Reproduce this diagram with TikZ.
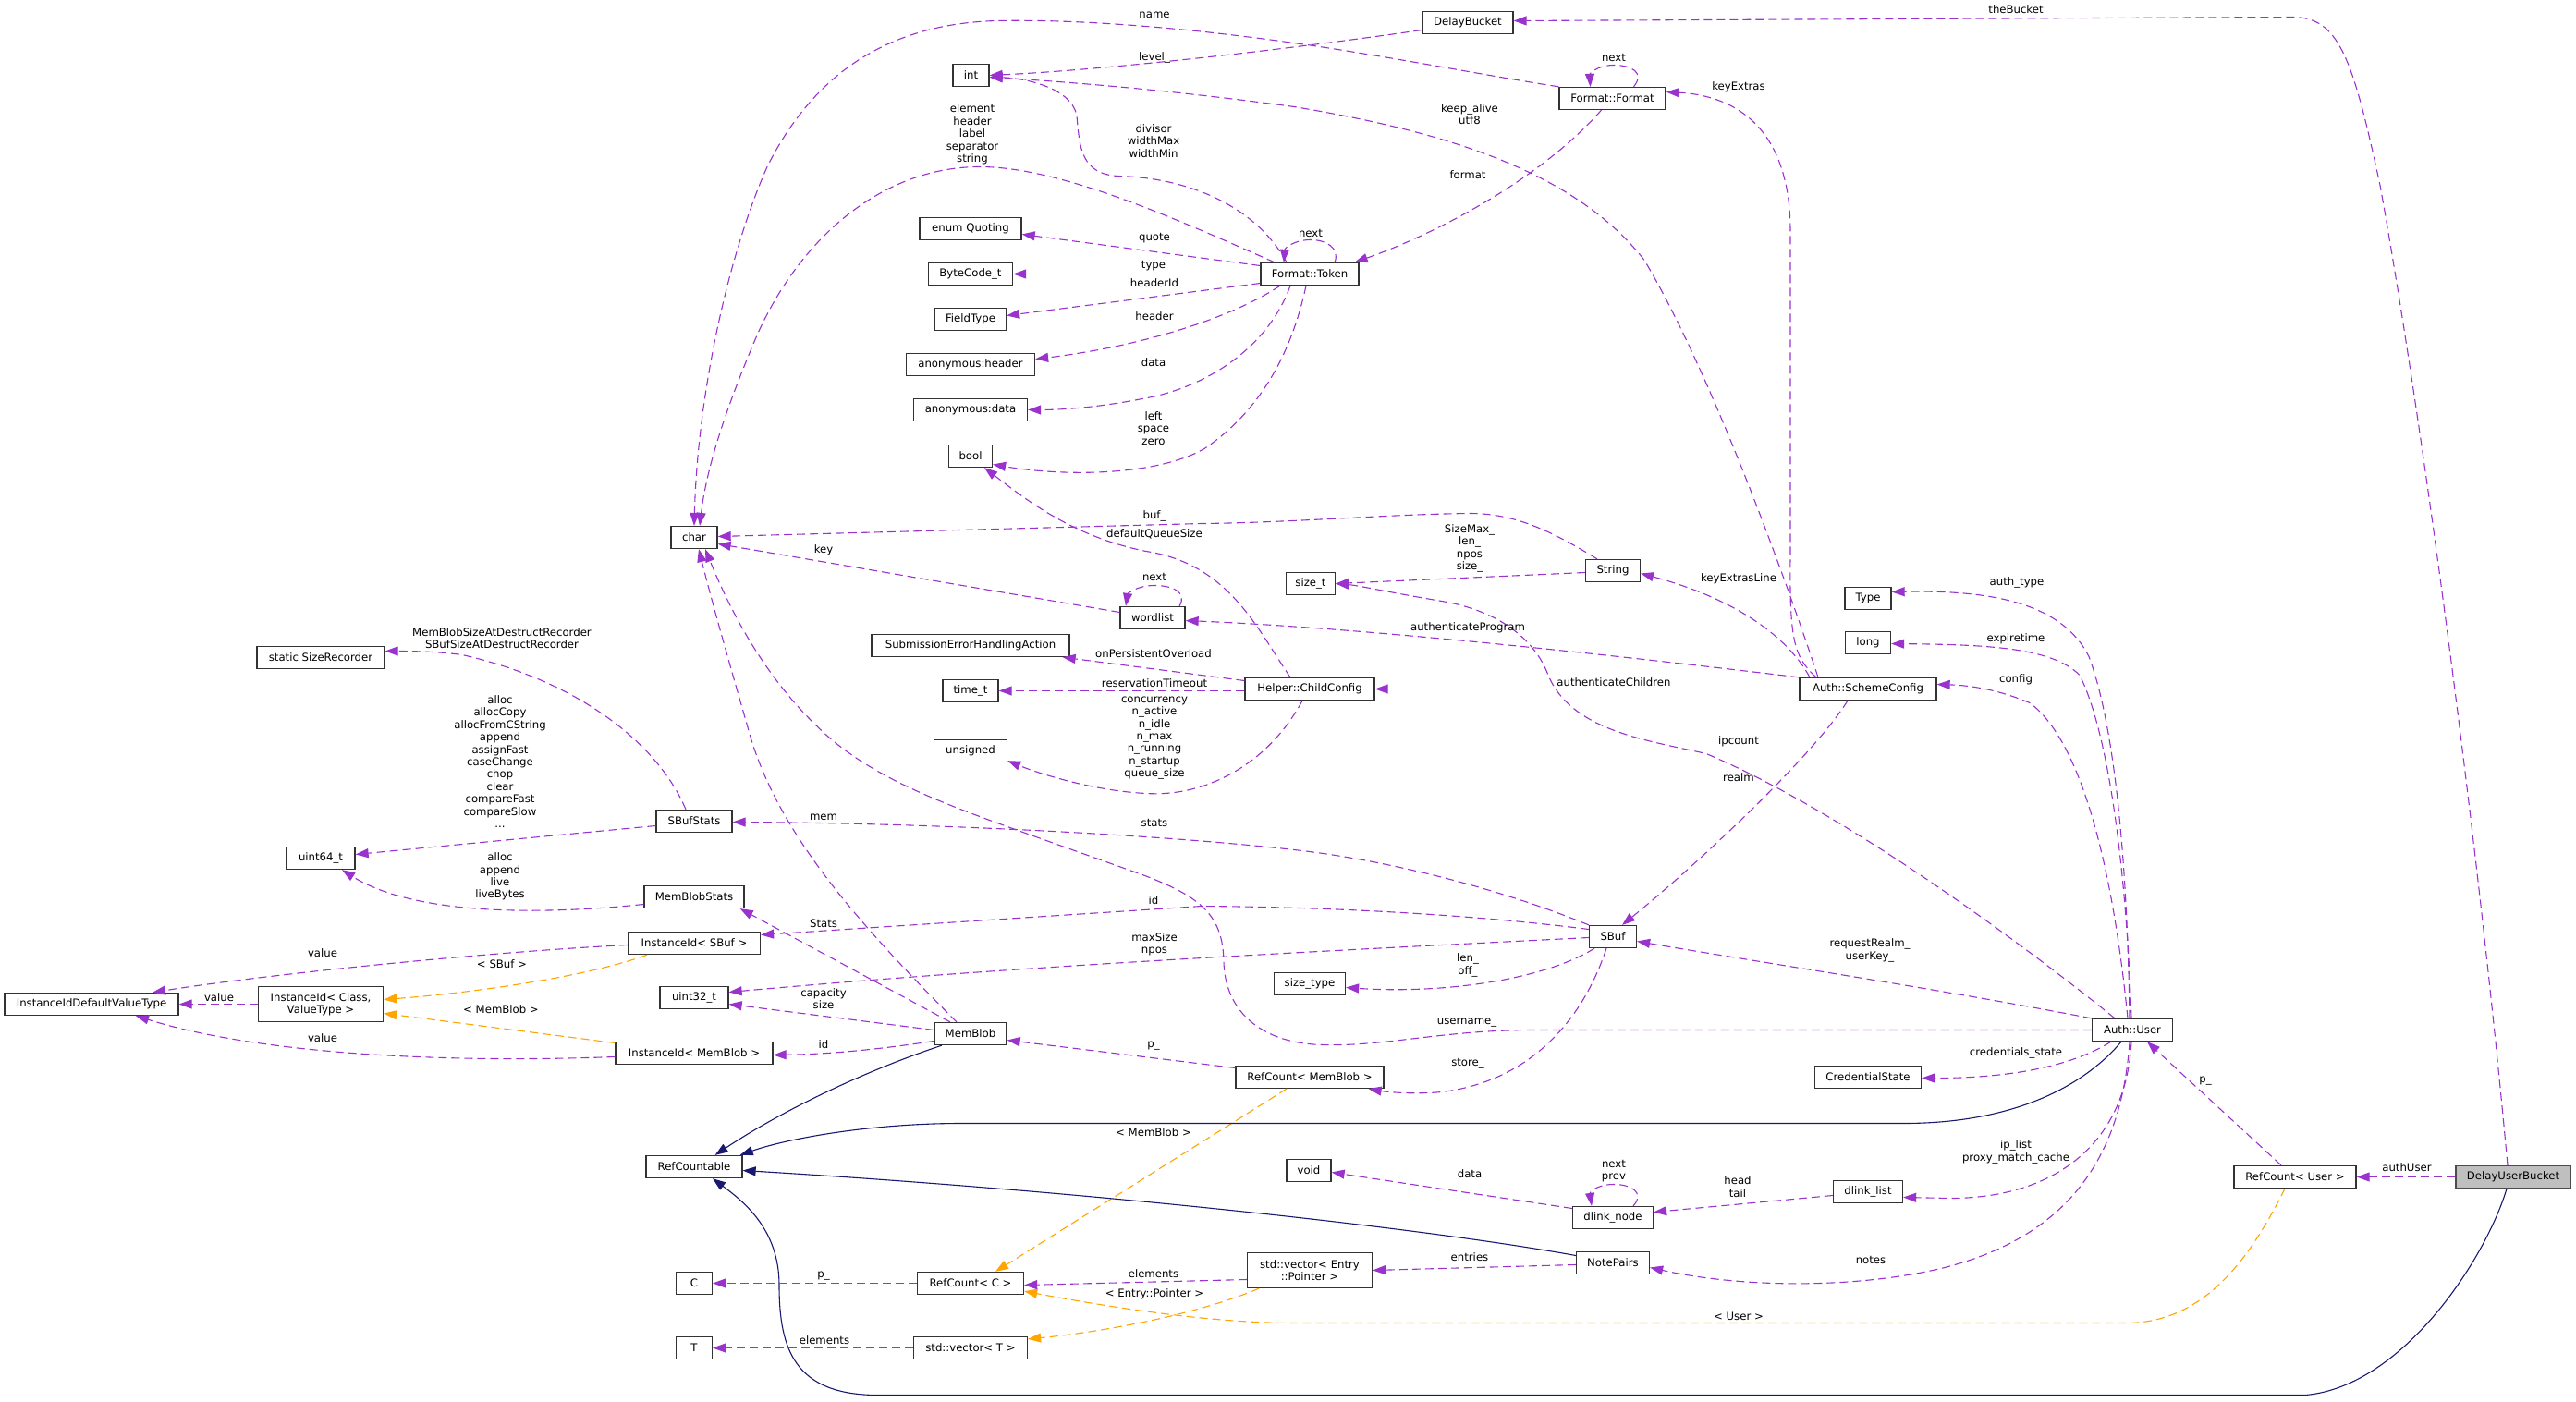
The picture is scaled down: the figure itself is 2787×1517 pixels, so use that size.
\documentclass[tikz,border=0pt]{standalone}
\usepackage{fontspec}
\setmainfont{DejaVu Sans}
\usetikzlibrary{arrows.meta}
\definecolor{pu}{HTML}{9A32CD}
\definecolor{orng}{HTML}{FFA500}
\definecolor{mblue}{HTML}{191970}
\definecolor{bord}{HTML}{333333}
\definecolor{grayfill}{HTML}{BFBFBF}
\begin{document}
\begin{tikzpicture}[x=1pt,y=-1pt,
  box/.style={draw=bord, line width=1.3pt, fill=white, inner xsep=2pt, inner ysep=0pt, minimum height=24pt, font=\fontsize{11.7pt}{13.4pt}\selectfont, align=center},
  boxtwo/.style={box, minimum height=38pt},
  lbl/.style={inner sep=0pt, font=\fontsize{11.7pt}{13.4pt}\selectfont, align=center},
  usg/.style={draw=pu, line width=1.1pt, dash pattern=on 9pt off 5pt, -{Triangle[length=14pt,width=10pt]}},
  tmpl/.style={draw=orng, line width=1.1pt, dash pattern=on 9pt off 5pt, -{Triangle[length=14pt,width=10pt]}},
  inh/.style={draw=mblue, line width=1.1pt, -{Triangle[length=14pt,width=10pt]}}
]
\useasboundingbox[fill=white] (0,-0.5) rectangle (2787,1516.5);

% ---------- nodes ----------
\node[box,minimum width=98pt] (db) at (1588,24) {DelayBucket};
\node[box,minimum width=39pt] (int) at (1050.5,81) {int};
\node[box,minimum width=115pt] (ff) at (1744.5,106) {Format::Format};
\node[box,minimum width=106pt] (ft) at (1417,296) {Format::Token};
\node[box,minimum width=110pt] (eq) at (1050,247) {enum Quoting};
\node[box,minimum width=91pt] (bc) at (1050,296) {ByteCode\_t};
\node[box,minimum width=77pt] (fty) at (1050,345) {FieldType};
\node[box,minimum width=139pt] (ah) at (1050,394) {anonymous:header};
\node[box,minimum width=123pt] (ad) at (1050,443) {anonymous:data};
\node[box,minimum width=47pt] (bool) at (1050,493) {bool};
\node[box,minimum width=50pt] (char) at (751,581) {char};
\node[box,minimum width=59pt] (str) at (1745,617) {String};
\node[box,minimum width=53pt] (sizet) at (1418,631) {size\_t};
\node[box,minimum width=70pt] (wl) at (1247,668) {wordlist};
\node[box,minimum width=214pt] (seha) at (1050,698) {SubmissionErrorHandlingAction};
\node[box,minimum width=60pt] (timet) at (1050,747) {time\_t};
\node[box,minimum width=140pt] (hcc) at (1417,745) {Helper::ChildConfig};
\node[box,minimum width=79pt] (uns) at (1050,812) {unsigned};
\node[box,minimum width=50pt] (type) at (2021,647) {Type};
\node[box,minimum width=49pt] (long) at (2021,695) {long};
\node[box,minimum width=148pt] (asc) at (2021,745) {Auth::SchemeConfig};
\node[box,minimum width=138pt] (ssr) at (347,711) {static SizeRecorder};
\node[box,minimum width=74pt] (u64) at (347,928) {uint64\_t};
\node[box,minimum width=82pt] (sbs) at (751,888) {SBufStats};
\node[box,minimum width=108pt] (mbs) at (751,970) {MemBlobStats};
\node[box,minimum width=143pt] (iis) at (751,1020) {InstanceId< SBuf >};
\node[box,minimum width=188pt] (iidv) at (99,1086) {InstanceIdDefaultValueType};
\node[boxtwo,minimum width=135pt] (iicv) at (347,1086) {InstanceId< Class,\\ValueType >};
\node[box,minimum width=74pt] (u32) at (751,1079) {uint32\_t};
\node[box,minimum width=170pt] (iim) at (751,1139) {InstanceId< MemBlob >};
\node[box,minimum width=78pt] (mb) at (1050,1118) {MemBlob};
\node[box,minimum width=104pt] (rc) at (751,1262) {RefCountable};
\node[box,minimum width=51pt] (sbuf) at (1745,1013) {SBuf};
\node[box,minimum width=77pt] (stype) at (1417,1064) {size\_type};
\node[box,minimum width=160pt] (rcm) at (1417,1165) {RefCount< MemBlob >};
\node[box,minimum width=87pt] (au) at (2307,1114) {Auth::User};
\node[box,minimum width=115pt] (cs) at (2021,1165) {CredentialState};
\node[box,minimum width=48pt] (void) at (1416,1266) {void};
\node[box,minimum width=87pt] (dn) at (1745,1317) {dlink\_node};
\node[box,minimum width=75pt] (dl) at (2021,1289) {dlink\_list};
\node[box,minimum width=79pt] (np) at (1745,1366) {NotePairs};
\node[boxtwo,minimum width=135pt] (vep) at (1417,1374) {std::vector< Entry\\::Pointer >};
\node[box,minimum width=115pt] (rcc) at (1050,1388) {RefCount< C >};
\node[box,minimum width=39pt] (nc) at (751,1388) {C};
\node[box,minimum width=39pt] (nt) at (751,1458) {T};
\node[box,minimum width=123pt] (vt) at (1050,1458) {std::vector< T >};
\node[box,minimum width=132pt] (rcu) at (2483,1273) {RefCount< User >};
\node[box,minimum width=124pt,fill=grayfill,draw=black!70] (dub) at (2719,1273) {DelayUserBucket};

% ---------- edges ----------
% DelayUserBucket
\draw[usg] ([xshift=-6pt]dub.north) .. controls (2680,900) and (2620,450) .. (2575,200) .. controls (2545,60) and (2530,18) .. (2480,18) -- ([yshift=2pt]db.east);
\draw[usg] (dub.west) -- (rcu.east);
\draw[inh] ([xshift=-7pt]dub.south) .. controls (2690,1360) and (2600,1500) .. (2494,1509) -- (950,1509) .. controls (860,1509) and (843,1460) .. (843,1390) .. controls (843,1330) and (805,1300) .. ([xshift=20pt]rc.south);
% RefCount<User>
\draw[usg] ([xshift=-15pt]rcu.north) -- ([xshift=16pt]au.south);
\draw[tmpl] ([xshift=-11pt]rcu.south) .. controls (2430,1370) and (2380,1431) .. (2300,1431) -- (1400,1431) .. controls (1300,1431) and (1180,1410) .. ([yshift=4pt]rcc.south east);
% templates
\draw[tmpl] ([xshift=-25pt]rcm.south) -- ([xshift=27pt]rcc.north);
\draw[tmpl] ([xshift=-55pt]vep.south) .. controls (1300,1420) and (1200,1440) .. ([yshift=-3pt]vt.north east);
\draw[usg] ([yshift=-10pt]vep.west) -- ([yshift=-2pt]rcc.east);
\draw[usg] (rcc.west) -- (nc.east);
\draw[usg] (vt.west) -- (nt.east);
% inheritance to RefCountable
\draw[inh] ([xshift=-31pt]mb.south) .. controls (930,1160) and (840,1205) .. ([xshift=-30pt]rc.north east);
\draw[inh] ([xshift=-12pt]au.south) .. controls (2250,1180) and (2170,1215) .. (2060,1215) -- (1040,1215) .. controls (940,1215) and (850,1232) .. ([xshift=-3pt]rc.north east);
\draw[inh] ([yshift=8pt]np.west) .. controls (1550,1330) and (1200,1290) .. ([yshift=-4pt]rc.east);
% NotePairs etc.
\draw[usg] ([yshift=-2pt]np.west) -- (vep.east);
\draw[usg] ([xshift=-3pt]au.south) .. controls (2295,1260) and (2230,1340) .. (2100,1372) .. controls (2000,1395) and (1880,1392) .. ([yshift=-5pt]np.east);
\draw[usg] ([xshift=-1pt]au.south) .. controls (2300,1240) and (2220,1296) .. (2110,1296) -- ([yshift=-6pt]dl.east);
\draw[usg] ([yshift=-4pt]dl.west) -- ([yshift=6pt]dn.east);
\draw[usg] ([xshift=22pt]dn.north) .. controls (1780,1290) and (1765,1281) .. (1746,1281) .. controls (1727,1281) and (1720,1290) .. ([xshift=-23pt]dn.north);
\draw[usg] ([yshift=10pt]dn.west) -- ([yshift=-2pt]void.east);
\draw[usg] ([xshift=-23pt]au.south) .. controls (2230,1160) and (2150,1166) .. ([yshift=-1pt]cs.east);
% username_
\draw[usg] (au.west) -- (1660,1114) .. controls (1560,1114) and (1500,1132) .. (1430,1130) .. controls (1360,1128) and (1325,1090) .. (1324,1040) .. controls (1323,990) and (1300,970) .. (1236,946) -- (1146,914) .. controls (1040,876) and (960,850) .. (900,800) .. controls (830,740) and (790,660) .. ([xshift=12pt]char.south);
% MemBlob
\draw[usg] ([xshift=-15pt]mb.north) .. controls (930,1000) and (840,900) .. (810,790) .. controls (790,720) and (770,650) .. ([xshift=5pt]char.south);
\draw[usg] ([xshift=-22pt]mb.north) -- ([xshift=-5pt]mbs.south east);
\draw[usg] ([yshift=4pt]mb.west) -- ([yshift=-7pt]u32.east);
\draw[usg] ([yshift=-8pt]mb.west) .. controls (950,1135) and (900,1140) .. ([yshift=-2pt]iim.east);
\draw[usg] ([yshift=10pt]rcm.west) -- ([yshift=-7pt]mb.east);
% SBuf
\draw[usg] ([xshift=-7pt]sbuf.south) .. controls (1710,1110) and (1650,1170) .. (1560,1181) .. controls (1530,1184) and (1500,1181) .. ([xshift=-17pt]rcm.south east);
\draw[usg] ([xshift=-20pt]sbuf.south) .. controls (1670,1060) and (1560,1075) .. ([yshift=-4pt]stype.east);
\draw[usg] ([yshift=-1pt]sbuf.west) .. controls (1400,1030) and (1100,1045) .. ([yshift=6pt]u32.east);
\draw[usg] ([yshift=8pt]sbuf.west) .. controls (1600,990) and (1450,981) .. (1300,980) -- ([yshift=9pt]iis.east);
\draw[usg] (sbuf.north west) .. controls (1620,960) and (1500,930) .. (1400,919) .. controls (1250,902) and (1000,890) .. ([yshift=-1pt]sbs.east);
% stats classes
\draw[usg] ([xshift=-9pt]sbs.north) .. controls (710,800) and (620,735) .. (500,708) .. controls (470,704) and (440,704) .. ([yshift=7pt]ssr.east);
\draw[usg] ([yshift=-5pt]sbs.west) -- ([yshift=4pt]u64.east);
\draw[usg] ([yshift=-8pt]mbs.west) .. controls (560,992) and (440,985) .. ([xshift=23pt]u64.south);
% InstanceId
\draw[usg] ([yshift=-2pt]iis.west) .. controls (520,1030) and (280,1055) .. ([xshift=66pt]iidv.north);
\draw[tmpl] ([xshift=-51pt]iis.south) .. controls (640,1055) and (520,1073) .. ([yshift=5pt]iicv.east);
\draw[tmpl] ([yshift=11pt]iim.west) -- ([yshift=-10pt]iicv.east);
\draw[usg] ([yshift=-4pt]iim.west) .. controls (480,1150) and (280,1140) .. ([xshift=48pt]iidv.south);
\draw[usg] (iicv.west) -- (iidv.east);
% Auth::User upper
\draw[usg] (au.north west) .. controls (2100,1070) and (1900,1040) .. ([yshift=-5pt]sbuf.east);
\draw[usg] ([xshift=-22pt]asc.south) .. controls (1960,820) and (1830,940) .. ([xshift=10pt]sbuf.north);
\draw[usg] ([xshift=-19pt]au.north) .. controls (2200,1030) and (2000,880) .. (1846,815) .. controls (1780,800) and (1700,790) .. (1675,730) .. controls (1660,690) and (1620,660) .. (1560,650) .. controls (1500,640) and (1470,633) .. (sizet.east);
\draw[usg] ([xshift=-3pt]au.north) .. controls (2302,950) and (2290,790) .. (2260,710) .. controls (2230,650) and (2150,638) .. ([yshift=7pt]type.east);
\draw[usg] ([xshift=-1pt]au.north) .. controls (2300,930) and (2280,790) .. (2250,730) .. controls (2220,700) and (2150,697) .. ([yshift=-1pt]long.east);
\draw[usg] ([xshift=-5pt]au.north) .. controls (2285,930) and (2250,800) .. (2196,760) .. controls (2160,745) and (2130,741) .. ([yshift=5pt]asc.east);
% String
\draw[usg] ([yshift=-2pt]str.west) -- (sizet.east);
\draw[usg] ([xshift=-17pt]str.north) .. controls (1680,575) and (1640,555) .. (1590,555) .. controls (1500,556) and (1400,565) .. (1300,566) -- ([yshift=1pt]char.east);
% ChildConfig
\draw[usg] ([xshift=-21pt]hcc.north) .. controls (1360,680) and (1330,610) .. (1240,596) .. controls (1160,580) and (1110,540) .. ([xshift=15pt]bool.south);
\draw[usg] ([yshift=9pt]hcc.west) -- ([xshift=-8pt]seha.south east);
\draw[usg] ([yshift=-2pt]hcc.west) -- (timet.east);
\draw[usg] ([xshift=-8pt]hcc.south) .. controls (1370,830) and (1300,862) .. (1240,858) .. controls (1180,855) and (1120,835) .. ([yshift=2pt]uns.south east);
% wordlist
\draw[usg] ([yshift=6pt]wl.west) -- ([yshift=-7pt]char.east);
\draw[usg] ([xshift=29pt]wl.north) .. controls (1285,640) and (1268,633) .. (1249,633) .. controls (1230,633) and (1220,642) .. ([xshift=-29pt]wl.north);
% SchemeConfig
\draw[usg] (asc.north west) .. controls (1800,715) and (1500,680) .. ([yshift=-3pt]wl.east);
\draw[usg] (asc.west) -- (hcc.east);
\draw[usg] ([xshift=-63pt]asc.north) .. controls (1935,690) and (1880,648) .. ([yshift=-3pt]str.east);
\draw[usg] ([xshift=-56pt]asc.north) .. controls (1940,710) and (1936,690) .. (1937,600) -- (1937,250) .. controls (1937,140) and (1880,103) .. ([yshift=7pt]ff.east);
\draw[usg] ([xshift=-54pt]asc.north) .. controls (1930,620) and (1850,400) .. (1779,281) .. controls (1700,180) and (1550,140) .. (1400,115) .. controls (1250,95) and (1150,88) .. ([yshift=-2pt]int.east);
% Format
\draw[usg] ([xshift=-12pt]ff.south) .. controls (1670,190) and (1560,250) .. ([xshift=-5pt]ft.north east);
\draw[usg] ([xshift=23pt]ff.north) .. controls (1780,78) and (1765,70) .. (1746,70) .. controls (1727,70) and (1720,80) .. ([xshift=-24pt]ff.north);
\draw[usg] (ff.north west) .. controls (1600,80) and (1500,60) .. (1400,46) .. controls (1300,32) and (1180,20) .. (1079,22) .. controls (960,25) and (880,80) .. (830,180) .. controls (790,270) and (755,420) .. (char.north);
\draw[usg] ([yshift=-8pt]db.west) .. controls (1400,52) and (1200,75) .. (int.east);
\draw[usg] ([xshift=-25pt]ft.north) .. controls (1360,225) and (1290,192) .. (1210,190) .. controls (1170,188) and (1168,160) .. (1165,125) .. controls (1160,95) and (1110,84) .. ([yshift=-2pt]int.east);
\draw[usg] ([xshift=27pt]ft.north) .. controls (1450,268) and (1435,259) .. (1418,259) .. controls (1400,259) and (1390,268) .. ([xshift=-28pt]ft.north);
\draw[usg] ([xshift=-38pt]ft.north) .. controls (1280,240) and (1150,180) .. (1060,180) .. controls (960,180) and (870,250) .. (820,360) .. controls (790,430) and (765,500) .. ([xshift=6pt]char.north);
\draw[usg] ([yshift=9pt]ft.west) -- ([yshift=-6pt]eq.east);
\draw[usg] (ft.west) -- (bc.east);
\draw[usg] ([yshift=-10pt]ft.west) -- ([yshift=4pt]fty.east);
\draw[usg] ([xshift=-32pt]ft.south) .. controls (1330,345) and (1230,375) .. ([yshift=6pt]ah.east);
\draw[usg] ([xshift=-21pt]ft.south) .. controls (1370,380) and (1300,420) .. (1236,431) .. controls (1190,440) and (1150,443) .. (ad.east);
\draw[usg] ([xshift=-4pt]ft.south) .. controls (1400,370) and (1370,440) .. (1303,485) .. controls (1250,515) and (1150,515) .. ([yshift=-9pt]bool.east);

% ---------- labels ----------
\node[lbl] (l01) at (2181,10) {theBucket};
\node[lbl] (l02) at (2604,1263) {authUser};
\node[lbl] (l03) at (2386,1169) {p\_};
\node[lbl] (l04) at (1881,1424) {< User >};
\node[lbl] (l05) at (1248,1225) {< MemBlob >};
\node[lbl] (l06) at (1249,1400) {< Entry::Pointer >};
\node[lbl] (l07) at (1248,1378) {elements};
\node[lbl] (l08) at (891,1380) {p\_};
\node[lbl] (l09) at (892,1450) {elements};
\node[lbl] (l10) at (1590,1360) {entries};
\node[lbl] (l11) at (2024,1363) {notes};
\node[lbl] (l12) at (2181,1246) {ip\_list\\proxy\_match\_cache};
\node[lbl] (l13) at (1880,1283.5) {head\\tail};
\node[lbl] (l14) at (1746,1266.5) {next\\prev};
\node[lbl] (l15) at (1590,1270) {data};
\node[lbl] (l16) at (2181,1139) {credentials\_state};
\node[lbl] (l17) at (1587,1106) {username\_};
\node[lbl] (l18) at (891,884) {mem};
\node[lbl] (l19) at (891,999) {Stats};
\node[lbl] (l20) at (891,1080) {capacity\\size};
\node[lbl] (l21) at (891,1130) {id};
\node[lbl] (l22) at (1248,1131) {p\_};
\node[lbl] (l23) at (1588,1150) {store\_};
\node[lbl] (l24) at (1588,1044) {len\_\\off\_};
\node[lbl] (l25) at (1249,1021) {maxSize\\npos};
\node[lbl] (l26) at (1248,974) {id};
\node[lbl] (l27) at (1249,890) {stats};
\node[lbl] (l28) at (543,690) {MemBlobSizeAtDestructRecorder\\SBufSizeAtDestructRecorder};
\node[lbl] (l29) at (541,823.5) {alloc\\allocCopy\\allocFromCString\\append\\assignFast\\caseChange\\chop\\clear\\compareFast\\compareSlow\\...};
\node[lbl] (l30) at (541,948) {alloc\\append\\live\\liveBytes};
\node[lbl] (l31) at (349,1031) {value};
\node[lbl] (l32) at (543,1043) {< SBuf >};
\node[lbl] (l33) at (542,1092) {< MemBlob >};
\node[lbl] (l34) at (349,1123) {value};
\node[lbl] (l35) at (237,1079) {value};
\node[lbl] (l36) at (2023,1028) {requestRealm\_\\userKey\_};
\node[lbl] (l37) at (1881,841) {realm};
\node[lbl] (l38) at (1881,802) {ipcount};
\node[lbl] (l39) at (1590,593) {SizeMax\_\\len\_\\npos\\size\_};
\node[lbl] (l40) at (1249,558) {buf\_};
\node[lbl] (l41) at (1249,577) {defaultQueueSize};
\node[lbl] (l42) at (891,595) {key};
\node[lbl] (l43) at (1249,624) {next};
\node[lbl] (l44) at (1588,679) {authenticateProgram};
\node[lbl] (l45) at (1746,738) {authenticateChildren};
\node[lbl] (l46) at (1248,707) {onPersistentOverload};
\node[lbl] (l47) at (1249,739) {reservationTimeout};
\node[lbl] (l48) at (1249,798) {concurrency\\n\_active\\n\_idle\\n\_max\\n\_running\\n\_startup\\queue\_size};
\node[lbl] (l49) at (1881,626) {keyExtrasLine};
\node[lbl] (l50) at (1881,93.5) {keyExtras};
\node[lbl] (l51) at (1590,123) {keep\_alive\\utf8};
\node[lbl] (l52) at (1588,189) {format};
\node[lbl] (l53) at (1746,62) {next};
\node[lbl] (l54) at (1249,15.5) {name};
\node[lbl] (l55) at (1249,61.6) {level\_};
\node[lbl] (l56) at (1248,152) {divisor\\widthMax\\widthMin};
\node[lbl] (l57) at (1418,251.6) {next};
\node[lbl] (l58) at (1052,145) {element\\header\\label\\separator\\string};
\node[lbl] (l59) at (1249,257) {quote};
\node[lbl] (l60) at (1248,287.5) {type};
\node[lbl] (l61) at (1249,306) {headerId};
\node[lbl] (l62) at (1249,342) {header};
\node[lbl] (l63) at (1248,392) {data};
\node[lbl] (l64) at (1248,463) {left\\space\\zero};
\node[lbl] (l65) at (2182,630) {auth\_type};
\node[lbl] (l66) at (2181,691) {expiretime};
\node[lbl] (l67) at (2181,735) {config};
\end{tikzpicture}
\end{document}
